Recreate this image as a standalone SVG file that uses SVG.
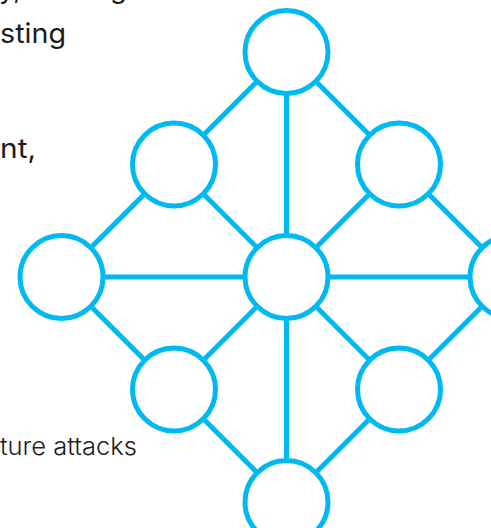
<svg xmlns="http://www.w3.org/2000/svg" width="491" height="528" viewBox="0 0 491 528">
  <style>
    .txt { font-family: Inter, "Liberation Sans", sans-serif; fill: #1c1c1c; }
    .big { font-size: 27.5px; }
    .small { font-size: 24px; font-weight: 300; }
    .edge { stroke: #00B9F2; stroke-width: 5; stroke-linecap: butt; fill: none; }
    .node { fill: #ffffff; stroke: #00B9F2; stroke-width: 5; }
  </style>
  <rect width="491" height="528" fill="#ffffff"/>
  <g id="text">
    <text class="txt big" x="-1" y="-2.5">y,</text>
    <text class="txt big" x="110" y="-2.5">g</text>
    <text class="txt big" x="0" y="43" textLength="66" lengthAdjust="spacingAndGlyphs">sting</text>
    <text class="txt big" x="0" y="158" textLength="36" lengthAdjust="spacingAndGlyphs">nt,</text>
    <text class="txt small" x="0" y="455" textLength="137" lengthAdjust="spacingAndGlyphs">ture attacks</text>
  </g>
  <g id="connectors">
    <line class="edge" x1="286.5" y1="52" x2="174" y2="164.5"/>
    <line class="edge" x1="286.5" y1="52" x2="399" y2="164.5"/>
    <line class="edge" x1="286.5" y1="52" x2="286.5" y2="277"/>
    <line class="edge" x1="174" y1="164.5" x2="61.5" y2="277"/>
    <line class="edge" x1="174" y1="164.5" x2="286.5" y2="277"/>
    <line class="edge" x1="399" y1="164.5" x2="511.5" y2="277"/>
    <line class="edge" x1="399" y1="164.5" x2="286.5" y2="277"/>
    <line class="edge" x1="61.5" y1="277" x2="511.5" y2="277"/>
    <line class="edge" x1="61.5" y1="277" x2="174" y2="389.5"/>
    <line class="edge" x1="286.5" y1="277" x2="174" y2="389.5"/>
    <line class="edge" x1="286.5" y1="277" x2="399" y2="389.5"/>
    <line class="edge" x1="511.5" y1="277" x2="399" y2="389.5"/>
    <line class="edge" x1="286.5" y1="277" x2="286.5" y2="502"/>
    <line class="edge" x1="174" y1="389.5" x2="286.5" y2="502"/>
    <line class="edge" x1="399" y1="389.5" x2="286.5" y2="502"/>
  </g>
  <g id="node-top"><circle class="node" cx="286.5" cy="52" r="41.5"/></g>
  <g id="node-upper-left"><circle class="node" cx="174" cy="164.5" r="41.5"/></g>
  <g id="node-upper-right"><circle class="node" cx="399" cy="164.5" r="41.5"/></g>
  <g id="node-left"><circle class="node" cx="61.5" cy="277" r="41.5"/></g>
  <g id="node-center"><circle class="node" cx="286.5" cy="277" r="41.5"/></g>
  <g id="node-right"><circle class="node" cx="511.5" cy="277" r="41.5"/></g>
  <g id="node-lower-left"><circle class="node" cx="174" cy="389.5" r="41.5"/></g>
  <g id="node-lower-right"><circle class="node" cx="399" cy="389.5" r="41.5"/></g>
  <g id="node-bottom"><circle class="node" cx="286.5" cy="502" r="41.5"/></g>
</svg>
